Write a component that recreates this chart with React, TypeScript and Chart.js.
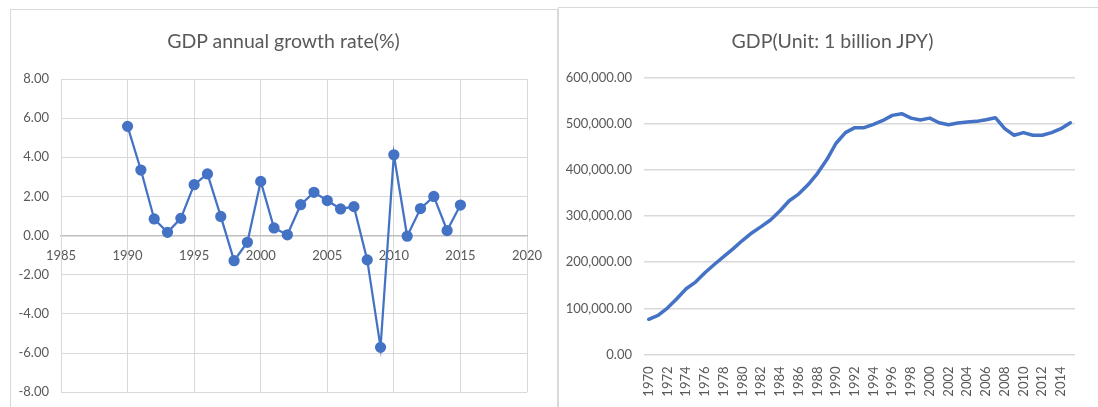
import { useEffect, useRef } from "react";
import { Chart, registerables } from "chart.js";

Chart.register(...registerables);

const FONT = "Lato, 'Open Sans', sans-serif";
const TEXT = "#595959";
const GRID = "#D9D9D9";
const BLUE = "#4472C4";

// Annual real GDP growth (%)
const growthYears = [
  1990, 1991, 1992, 1993, 1994, 1995, 1996, 1997, 1998, 1999, 2000, 2001, 2002,
  2003, 2004, 2005, 2006, 2007, 2008, 2009, 2010, 2011, 2012, 2013, 2014, 2015,
];
const growthRates = [
  5.58, 3.35, 0.85, 0.17, 0.88, 2.6, 3.15, 0.98, -1.28, -0.34, 2.77, 0.39, 0.04,
  1.58, 2.21, 1.79, 1.36, 1.48, -1.24, -5.71, 4.13, -0.03, 1.38, 2.0, 0.26, 1.56,
];

// GDP level, billion JPY
const gdpYears = [
  "1970", "1971", "1972", "1973", "1974", "1975", "1976", "1977", "1978", "1979",
  "1980", "1981", "1982", "1983", "1984", "1985", "1986", "1987", "1988", "1989",
  "1990", "1991", "1992", "1993", "1994", "1995", "1996", "1997", "1998", "1999",
  "2000", "2001", "2002", "2003", "2004", "2005", "2006", "2007", "2008", "2009",
  "2010", "2011", "2012", "2013", "2014", "2015",
];
const gdpValues = [
  76300, 84900, 100700, 120900, 142400, 156800, 177000, 195000, 212000, 228800,
  246800, 263300, 277000, 291400, 310800, 333000, 347500, 367600, 392000, 421600,
  457600, 480600, 491400, 491400, 498600, 507000, 518000, 521600, 512000, 508000,
  512000, 502000, 497800, 501400, 503600, 505000, 508600, 513000, 489200, 474800,
  480600, 474800, 474800, 480600, 489200, 502000,
];

const growthTitle = "GDP annual growth rate(%)";
const gdpTitle = "GDP(Unit: 1 billion JPY)";

const tickFont = { family: FONT, size: 13 };

function GrowthChart() {
  const ref = useRef<HTMLCanvasElement>(null);
  useEffect(() => {
    if (!ref.current) return;
    const chart = new Chart(ref.current, {
      type: "line",
      data: {
        datasets: [
          {
            data: growthYears.map((x, i) => ({ x, y: growthRates[i] })),
            borderColor: BLUE,
            backgroundColor: BLUE,
            borderWidth: 2.25,
            pointRadius: 4.5,
            pointHoverRadius: 4.5,
            pointBackgroundColor: BLUE,
            pointBorderColor: BLUE,
            tension: 0,
          },
        ],
      },
      options: {
        animation: false,
        responsive: false,
        layout: { padding: { left: 0, right: 29, top: 69, bottom: 0 } },
        plugins: {
          legend: { display: false },
          tooltip: { enabled: false },
        },
        scales: {
          x: {
            type: "linear",
            position: { y: 0 },
            min: 1985,
            max: 2020,
            ticks: {
              stepSize: 5,
              color: TEXT,
              font: tickFont,
              padding: 12,
              maxRotation: 0,
              callback: (v) => String(v),
            },
            grid: { color: GRID, drawTicks: false, lineWidth: 1 },
            border: { color: "#BFBFBF", width: 1.5 },
          },
          y: {
            min: -8,
            max: 8,
            ticks: {
              stepSize: 2,
              color: TEXT,
              font: tickFont,
              padding: 12,
              callback: (v) => Number(v).toFixed(2),
            },
            grid: { color: GRID, drawTicks: false },
            border: { color: GRID },
            afterFit: (s) => {
              s.width = 50;
            },
          },
        },
      },
    });
    return () => chart.destroy();
  }, []);
  return <canvas ref={ref} width={545} height={402} style={{ display: "block" }} />;
}

function GdpChart() {
  const ref = useRef<HTMLCanvasElement>(null);
  useEffect(() => {
    if (!ref.current) return;
    const chart = new Chart(ref.current, {
      type: "line",
      data: {
        labels: gdpYears,
        datasets: [
          {
            data: gdpValues,
            borderColor: BLUE,
            backgroundColor: BLUE,
            borderWidth: 3.5,
            pointRadius: 0,
            pointHoverRadius: 0,
            borderJoinStyle: "round",
            borderCapStyle: "round",
            tension: 0,
          },
        ],
      },
      options: {
        animation: false,
        responsive: false,
        layout: { padding: { left: 0, right: 8, top: 69.5, bottom: 0 } },
        plugins: {
          legend: { display: false },
          tooltip: { enabled: false },
        },
        scales: {
          x: {
            offset: true,
            ticks: {
              autoSkip: false,
              minRotation: 90,
              maxRotation: 90,
              color: TEXT,
              font: tickFont,
              padding: 12,
              callback: (_v, i) => (i % 2 === 0 ? gdpYears[i] : ""),
            },
            grid: { display: false, drawTicks: false },
            border: { display: false },
            afterFit: (s) => {
              s.height = 52.5;
            },
          },
          y: {
            min: 0,
            max: 600000,
            ticks: {
              stepSize: 100000,
              color: TEXT,
              font: tickFont,
              padding: 12,
              callback: (v) =>
                Number(v).toLocaleString("en-US", {
                  minimumFractionDigits: 2,
                  maximumFractionDigits: 2,
                }),
            },
            grid: { color: GRID, drawTicks: false, lineWidth: 1.5 },
            border: { display: false },
            afterFit: (s) => {
              s.width = 85;
            },
          },
        },
      },
    });
    return () => chart.destroy();
  }, []);
  return <canvas ref={ref} width={539} height={399} style={{ display: "block" }} />;
}

const titleStyle = (centerX: number) => ({
  position: "absolute" as const,
  left: centerX - 200,
  width: 400,
  top: 29,
  height: 24,
  lineHeight: "24px",
  textAlign: "center" as const,
  fontFamily: FONT,
  fontSize: 19.5,
  color: TEXT,
  whiteSpace: "nowrap" as const,
});

export default function App() {
  return (
    <div
      style={{
        position: "fixed",
        left: 0,
        top: 0,
        width: 1098,
        height: 407,
        background: "#fff",
        overflow: "hidden",
      }}
    >
      <div
        style={{
          position: "absolute",
          left: 10,
          top: 9,
          width: 546,
          height: 420,
          borderTop: `1px solid ${GRID}`,
          borderLeft: `1px solid ${GRID}`,
          borderRight: `1px solid ${GRID}`,
        }}
      />
      <div
        style={{
          position: "absolute",
          left: 558,
          top: 7,
          width: 560,
          height: 420,
          borderTop: `1px solid ${GRID}`,
          borderLeft: `1px solid ${GRID}`,
        }}
      />
      <div style={{ position: "absolute", left: 11, top: 10 }}>
        <GrowthChart />
      </div>
      <div style={{ position: "absolute", left: 559, top: 8 }}>
        <GdpChart />
      </div>
      <div style={titleStyle(283.5)}>{growthTitle}</div>
      <div style={titleStyle(832.5)}>{gdpTitle}</div>
    </div>
  );
}
